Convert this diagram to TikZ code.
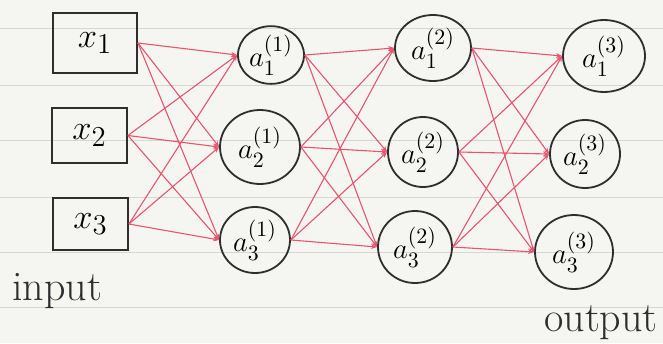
\documentclass[tikz,border=0pt]{standalone}
\usepackage{amsmath,amssymb}
\usetikzlibrary{shapes.geometric,arrows.meta}
\definecolor{papelF}{HTML}{F5F5F2}
\definecolor{rayaP}{HTML}{D6D6D4}
\definecolor{rojoLinea}{HTML}{E8556F}
\definecolor{negroT}{HTML}{2E2E2E}
\tikzset{
  caja/.style={draw=negroT,line width=0.9pt,rectangle,inner sep=0pt,
    font=\fontsize{19}{22}\selectfont},
  neurona/.style={draw=negroT,line width=0.9pt,ellipse,inner sep=0pt,
    font=\fontsize{15}{18}\selectfont},
  conexion/.style={rojoLinea,line width=0.55pt,-{Stealth[length=3pt,width=2.4pt]}},
  rotulo/.style={text=negroT,font=\fontsize{21}{24}\selectfont}
}
\newcommand{\conectaCapa}[6]{%
  \draw[conexion] (#1.east) -- (#4.west);   % 1 -> 1
  \draw[conexion] (#1.east) -- (#5.west);   % 1 -> 2
  \draw[conexion] (#1.east) -- (#6.west);   % 1 -> 3
  \draw[conexion] (#2.east) -- (#4.west);   % 2 -> 1
  \draw[conexion] (#2.east) -- (#5.west);   % 2 -> 2
  \draw[conexion] (#2.east) -- (#6.west);   % 2 -> 3
  \draw[conexion] (#3.east) -- (#4.west);   % 3 -> 1
  \draw[conexion] (#3.east) -- (#5.west);   % 3 -> 2
  \draw[conexion] (#3.east) -- (#6.west);   % 3 -> 3
}
\begin{document}
\begin{tikzpicture}[x=0.5pt,y=-0.5pt]
  % hoja rayada
  \fill[papelF] (0,0) rectangle (663,343);
  \useasboundingbox (0,0) rectangle (663,343);
  \draw[rayaP,line width=0.5pt] (0,28) -- (663,28);
  \draw[rayaP,line width=0.5pt] (0,85) -- (663,85);
  \draw[rayaP,line width=0.5pt] (0,140) -- (663,140);
  \draw[rayaP,line width=0.5pt] (0,197) -- (663,197);
  \draw[rayaP,line width=0.5pt] (0,252) -- (663,252);
  \draw[rayaP,line width=0.5pt] (0,307) -- (663,307);
  % entradas
  \node[caja,minimum width=42pt,minimum height=30pt] (x1) at (95,43) {$x_1$};
  \node[caja,minimum width=37.5pt,minimum height=27.5pt] (x2) at (89.5,135.5) {$x_2$};
  \node[caja,minimum width=37.5pt,minimum height=26pt] (x3) at (90.5,224) {$x_3$};
  % capa 1
  \node[neurona,minimum width=33pt,minimum height=25pt] (a11) at (271,55) {$a^{(1)}_1$};
  \node[neurona,minimum width=40pt,minimum height=37pt] (a21) at (260,147) {$a^{(1)}_2$};
  \node[neurona,minimum width=35pt,minimum height=33pt] (a31) at (255,240) {$a^{(1)}_3$};
  % capa 2
  \node[neurona,minimum width=38pt,minimum height=33pt] (a12) at (433,48) {$a^{(2)}_1$};
  \node[neurona,minimum width=35pt,minimum height=35pt] (a22) at (423,152) {$a^{(2)}_2$};
  \node[neurona,minimum width=37pt,minimum height=36pt] (a32) at (415,247) {$a^{(2)}_3$};
  % capa 3
  \node[neurona,minimum width=41pt,minimum height=36pt] (a13) at (604,56) {$a^{(3)}_1$};
  \node[neurona,minimum width=35pt,minimum height=34pt] (a23) at (585,154) {$a^{(3)}_2$};
  \node[neurona,minimum width=39pt,minimum height=37pt] (a33) at (574,252) {$a^{(3)}_3$};
  % conexiones
  \conectaCapa{x1}{x2}{x3}{a11}{a21}{a31}
  \conectaCapa{a11}{a21}{a31}{a12}{a22}{a32}
  \conectaCapa{a12}{a22}{a32}{a13}{a23}{a33}
  % rotulos
  \node[rotulo] (entrada) at (57,291) {input};
  \node[rotulo] (salida) at (601,323) {output};
\end{tikzpicture}
\end{document}
